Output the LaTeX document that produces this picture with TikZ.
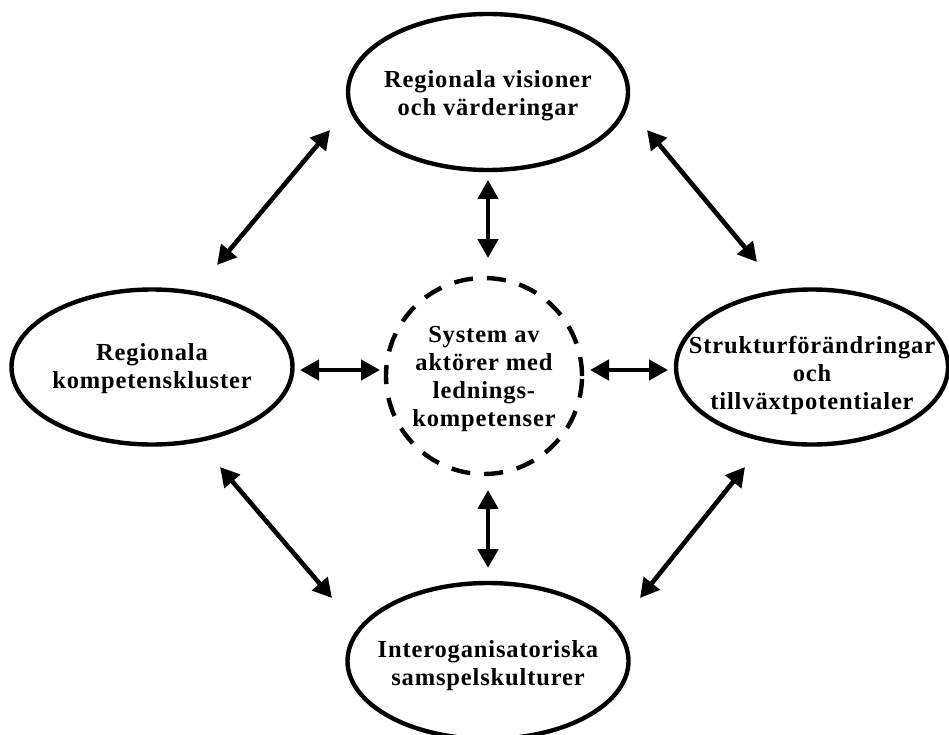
\documentclass[tikz,border=0pt]{standalone}
\usepackage{fontspec}
\setmainfont{Liberation Serif}[LetterSpace=3.5]
\usetikzlibrary{arrows.meta,shapes.geometric}
\begin{document}
\begin{tikzpicture}[x=1pt,y=-1pt,
  ell/.style={draw,line width=4.4pt,ellipse,inner sep=0pt},
  txt/.style={align=center,inner sep=0pt,font=\fontsize{24.5}{28}\selectfont\bfseries},
  dashcircle/.style={draw,line width=4.4pt,circle,inner sep=0pt,
    dash pattern=on 19pt off 14pt},
  link/.style={line width=4.6pt,{Triangle[length=19pt,width=20pt]}-{Triangle[length=19pt,width=20pt]}}]
\useasboundingbox (0,0) rectangle (949,735);
\fill[white] (0,0) rectangle (949,735);
\node[ell,minimum width=280pt,minimum height=156pt] (top) at (488,92) {};
\node[txt] (toptxt) at (488,96) {Regionala visioner\\och värderingar};
\node[ell,minimum width=281pt,minimum height=155pt] (left) at (152,367) {};
\node[txt] (lefttxt) at (152,369) {Regionala\\kompetenskluster};
\node[ell,minimum width=272pt,minimum height=155pt] (right) at (812,367) {};
\node[txt] (righttxt) at (812,375) {Strukturförändringar\\och\\tillväxtpotentialer};
\node[ell,minimum width=281pt,minimum height=156pt] (bottom) at (488,661) {};
\node[txt] (bottomtxt) at (488,666) {Interoganisatoriska\\samspelskulturer};
\node[dashcircle,minimum size=196pt] (center) at (484,376) {};
\node[txt] (centertxt) at (484,379) {System av\\aktörer med\\lednings-\\kompetenser};
\coordinate (v1a) at (488,180); \coordinate (v1b) at (488,258);
\coordinate (v2a) at (488,490); \coordinate (v2b) at (488,568);
\coordinate (h1a) at (300,370); \coordinate (h1b) at (380,370);
\coordinate (h2a) at (590,370); \coordinate (h2b) at (668,370);
\coordinate (d1a) at (217,265); \coordinate (d1b) at (330,130);
\coordinate (d2a) at (647,130); \coordinate (d2b) at (757,262);
\coordinate (d3a) at (220,467); \coordinate (d3b) at (332,598);
\coordinate (d4a) at (640,598); \coordinate (d4b) at (745,467);
\foreach \a in {v1,v2,h1,h2,d1,d2,d3,d4}{
  \draw[link] (\a a) -- (\a b);
}
\end{tikzpicture}
\end{document}
